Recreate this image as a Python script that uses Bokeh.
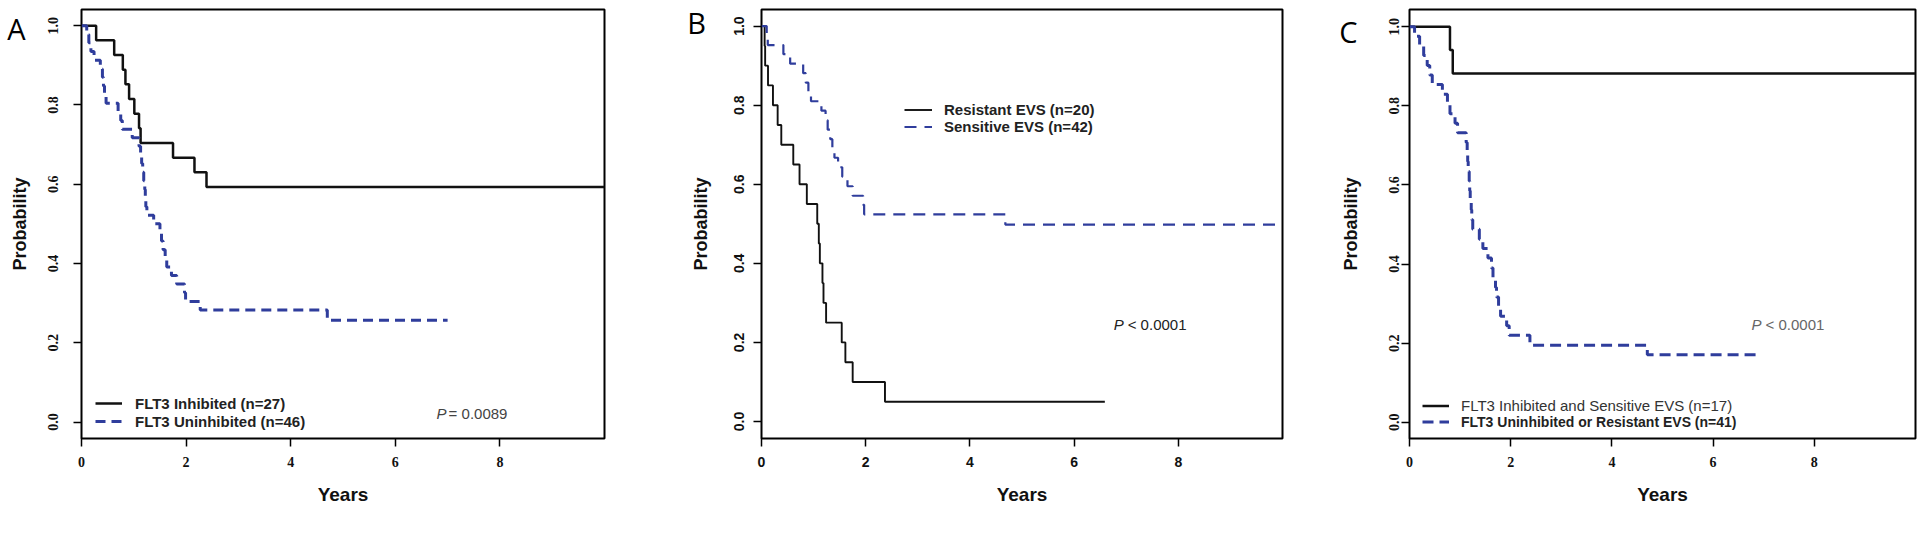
from bokeh.plotting import figure
from bokeh.layouts import row
from bokeh.models import (Range1d, FixedTicker, PrintfTickFormatter, Legend,
                          LegendItem, Label)
from bokeh.embed import file_html
from bokeh.resources import INLINE

# ---------------- data (years, survival probability) ----------------
# Panel A
a_inhib_t = [0, 0.28, 0.625, 0.79, 0.84, 0.91, 1.01, 1.10, 1.13, 1.75, 2.16, 2.39, 10.0]
a_inhib_s = [1.0, 0.963, 0.926, 0.889, 0.852, 0.815, 0.778, 0.741, 0.704, 0.667, 0.630, 0.593, 0.593]
a_uninh_t = [0, 0.10, 0.14, 0.18, 0.24, 0.36, 0.40, 0.42, 0.44, 0.47, 0.70, 0.75, 0.78, 0.97,
             1.10, 1.13, 1.15, 1.17, 1.19, 1.21, 1.22, 1.23, 1.25, 1.38, 1.50, 1.53, 1.56,
             1.60, 1.63, 1.72, 1.82, 1.97, 1.99, 2.27, 4.70, 7.00]
a_uninh_s = [1.0, 0.978, 0.957, 0.935, 0.913, 0.891, 0.870, 0.848, 0.826, 0.804, 0.783, 0.761,
             0.739, 0.717, 0.696, 0.674, 0.652, 0.630, 0.609, 0.587, 0.565, 0.543, 0.522,
             0.500, 0.478, 0.457, 0.435, 0.413, 0.391, 0.370, 0.348, 0.326, 0.304, 0.283,
             0.257, 0.257]
a_labels = ["FLT3 Inhibited (n=27)", "FLT3 Uninhibited (n=46)"]
a_pvalue = "= 0.0089"

# Panel B
b_res_t = [0, 0.06, 0.07, 0.125, 0.22, 0.31, 0.38, 0.61, 0.73, 0.87, 1.07, 1.10, 1.12, 1.17,
           1.19, 1.24, 1.54, 1.61, 1.75, 2.37, 6.59]
b_res_s = [1.0, 0.95, 0.90, 0.85, 0.80, 0.75, 0.70, 0.65, 0.60, 0.55, 0.50, 0.45, 0.40, 0.35,
           0.30, 0.25, 0.20, 0.15, 0.10, 0.05, 0.05]
b_sen_t = [0, 0.10, 0.12, 0.42, 0.55, 0.80, 0.85, 0.90, 0.95, 1.15, 1.23, 1.27, 1.32, 1.36,
           1.40, 1.47, 1.55, 1.65, 1.75, 1.95, 1.97, 4.68, 10.0]
b_sen_s = [1.0, 0.976, 0.952, 0.929, 0.905, 0.881, 0.857, 0.833, 0.810, 0.786, 0.762, 0.738,
           0.714, 0.690, 0.667, 0.643, 0.619, 0.595, 0.571, 0.548, 0.524, 0.498, 0.498]
b_labels = ["Resistant EVS (n=20)", "Sensitive EVS (n=42)"]
b_pvalue = "< 0.0001"

# Panel C
c_fs_t = [0, 0.80, 0.855, 10.0]
c_fs_s = [1.0, 0.941, 0.882, 0.882]
c_ur_t = [0, 0.10, 0.20, 0.28, 0.35, 0.40, 0.45, 0.65, 0.75, 0.80, 0.90, 0.95, 1.12, 1.14,
          1.15, 1.16, 1.18, 1.19, 1.20, 1.22, 1.23, 1.25, 1.38, 1.45, 1.55, 1.62, 1.65, 1.70,
          1.72, 1.76, 1.80, 1.92, 1.97, 2.38, 4.70, 6.88]
c_ur_s = [1.0, 0.976, 0.951, 0.927, 0.902, 0.878, 0.854, 0.829, 0.805, 0.780, 0.756, 0.732,
          0.707, 0.683, 0.659, 0.634, 0.610, 0.585, 0.561, 0.537, 0.512, 0.488, 0.463, 0.439,
          0.415, 0.390, 0.366, 0.341, 0.317, 0.293, 0.268, 0.244, 0.220, 0.195, 0.171, 0.171]
c_labels = ["FLT3 Inhibited and Sensitive EVS (n=17)", "FLT3 Uninhibited or Resistant EVS (n=41)"]
c_pvalue = "< 0.0001"

panel_letters = ["A", "B", "C"]
x_ticks = [0, 2, 4, 6, 8]
y_ticks = [0.0, 0.2, 0.4, 0.6, 0.8, 1.0]

BLUE = "#2f3d9c"
SANS = "Liberation Sans"
NARROW = "Liberation Sans Narrow"


def make_fig(width, height, bl, br, bt, bb, y0, y1, tick_font, y_label_standoff,
             y_axis_standoff):
    p = figure(width=width, height=height, x_range=Range1d(0, 10), y_range=Range1d(y0, y1),
               output_backend="svg", toolbar_location=None,
               min_border_left=bl, min_border_right=br, min_border_top=bt,
               min_border_bottom=bb, background_fill_color="white",
               border_fill_color="white", outline_line_color="black",
               outline_line_width=2, x_axis_label="Years", y_axis_label="Probability")
    p.grid.visible = False
    for ax in (p.xaxis, p.yaxis):
        ax.axis_line_color = None
        ax.minor_tick_line_color = None
        ax.major_tick_in = 0
        ax.major_tick_out = 8
        ax.major_tick_line_color = "black"
        ax.major_tick_line_width = 1.5
        ax.major_label_text_font = tick_font
        ax.major_label_text_font_style = "bold"
        ax.major_label_text_font_size = "14px"
        ax.major_label_text_color = "#111111"
        ax.axis_label_text_font = SANS
        ax.axis_label_text_font_style = "bold"
        ax.axis_label_text_color = "#111111"
    p.xaxis.ticker = FixedTicker(ticks=x_ticks)
    p.yaxis.ticker = FixedTicker(ticks=y_ticks)
    p.yaxis.formatter = PrintfTickFormatter(format="%.1f")
    p.yaxis.major_label_orientation = "vertical"
    p.xaxis.major_label_standoff = 10
    p.xaxis.axis_label_standoff = 14
    p.xaxis.axis_label_text_font_size = "19px"
    p.yaxis.major_label_standoff = y_label_standoff
    p.yaxis.axis_label_standoff = y_axis_standoff
    p.yaxis.axis_label_text_font_size = "18px"
    return p


def letter(p, cx, cy, t, side):
    # panel letter, placed in canvas pixels inside a side panel (not clipped to the frame)
    p.add_layout(Label(x=cx, y=cy, x_units="canvas", y_units="canvas", text=t,
                       text_font="Open Sans", text_font_size="29px", text_align="center",
                       text_baseline="middle", text_color="black"), side)


def pval(p, x, y, rest, color, font, off):
    p.add_layout(Label(x=x, y=y, text="P", text_font=SANS, text_font_style="italic",
                       text_font_size="15px", text_baseline="middle", text_color=color))
    p.add_layout(Label(x=x, y=y, x_offset=off, text=rest, text_font=font,
                       text_font_size="15px", text_baseline="middle", text_color=color))


def legend(items, loc, gw, gh, standoff, font, style, size, color):
    return Legend(items=items, location=loc, orientation="vertical",
                  border_line_color=None, background_fill_alpha=0, padding=0, margin=0,
                  spacing=0, glyph_width=gw, glyph_height=gh, label_height=gh,
                  label_standoff=standoff, label_text_font=font,
                  label_text_font_style=style, label_text_font_size=size,
                  label_text_color=color, label_text_baseline="middle")


# ---------------- Panel A ----------------
pA = make_fig(640, 552, 81, 36, 9, 100, -0.0415, 1.0408, NARROW, 15, 16)
rA1 = pA.step(a_inhib_t, a_inhib_s, mode="after", line_color="#111111", line_width=2.5)
rA2 = pA.step(a_uninh_t, a_uninh_s, mode="after", line_color=BLUE, line_width=3,
              line_dash="10 6")
pA.add_layout(legend([LegendItem(label=a_labels[0], renderers=[rA1]),
                      LegendItem(label=a_labels[1], renderers=[rA2])],
                     (14, 8), 27, 18, 13, SANS, "bold", "15px", "#222222"))
pval(pA, 6.79, 0.022, a_pvalue, "#444444", SANS, 12)
letter(pA, 16, 28, panel_letters[0], "right")

# ---------------- Panel B ----------------
pB = make_fig(660, 552, 121, 18, 5, 100, -0.043, 1.042, SANS, 9, 21)
rB1 = pB.step(b_res_t, b_res_s, mode="after", line_color="#111111", line_width=1.9)
rB2 = pB.step(b_sen_t, b_sen_s, mode="after", line_color=BLUE, line_width=2.2,
              line_dash="12 8")
pB.add_layout(legend([LegendItem(label=b_labels[0], renderers=[rB1]),
                      LegendItem(label=b_labels[1], renderers=[rB2])],
                     (143, 303), 28, 17, 12, SANS, "bold", "15px", "#222222"))
pval(pB, 6.76, 0.246, b_pvalue, "#222222", SANS, 14)
letter(pB, 56, 22, panel_letters[1], "left")

# ---------------- Panel C ----------------
pC = make_fig(620, 552, 109, 5, 7, 114, -0.041, 1.0435, NARROW, 2, 26)
rC1 = pC.step(c_fs_t, c_fs_s, mode="after", line_color="#111111", line_width=2.5)
rC2 = pC.step(c_ur_t, c_ur_s, mode="after", line_color=BLUE, line_width=3,
              line_dash="11 6")
pC.add_layout(legend([LegendItem(label=c_labels[0], renderers=[rC1])],
                     (13, 24), 27, 17, 12, SANS, "normal", "15px", "#333333"))
pC.add_layout(legend([LegendItem(label=c_labels[1], renderers=[rC2])],
                     (13, 8), 27, 17, 12, SANS, "bold", "14px", "#222222"))
pval(pC, 6.76, 0.248, c_pvalue, "#666666", SANS, 14)
letter(pC, 48, 31, panel_letters[2], "left")

layout = row(pA, pB, pC)
open("out.html", "w").write(file_html(layout, INLINE))
